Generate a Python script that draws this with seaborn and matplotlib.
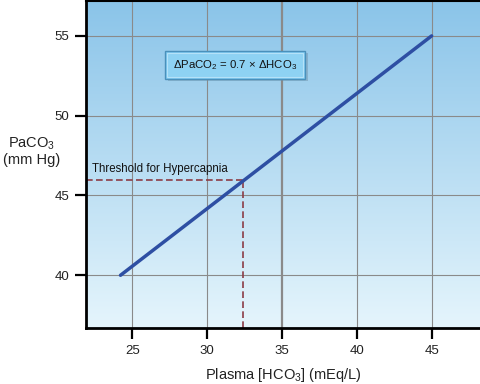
import numpy as np
import pandas as pd
import matplotlib
matplotlib.use("Agg")
import matplotlib.pyplot as plt
import seaborn as sns
from matplotlib.patches import Rectangle

# === data ===
hco3 = [24.2, 45.0]
paco2 = [40.0, 55.0]
threshold_paco2 = 46.0
threshold_hco3 = 32.4
x_ticks = [25, 30, 35, 40, 45]
y_ticks = [40, 45, 50, 55]

df = pd.DataFrame({"HCO3": hco3, "PaCO2": paco2})

sns.set_style("ticks")
plt.rcParams["font.family"] = ["Liberation Sans", "DejaVu Sans"]
plt.rcParams["mathtext.fontset"] = "custom"
plt.rcParams["mathtext.rm"] = "Liberation Sans"
plt.rcParams["mathtext.it"] = "Liberation Sans"
plt.rcParams["mathtext.bf"] = "Liberation Sans"

fig = plt.figure(figsize=(4.81, 3.84), dpi=100)
ax = fig.add_axes([0.179, 0.146, 0.821, 0.852])

ax.set_xlim(21.9, 48.3)
ax.set_ylim(36.7, 57.2)

# gradient background
top = np.array([138, 196, 233]) / 255
bot = np.array([229, 245, 252]) / 255
t = np.linspace(0, 1, 256)[:, None]
grad = (top * (1 - t) + bot * t).reshape(256, 1, 3)
ax.imshow(grad, extent=[0, 1, 0, 1], transform=ax.transAxes, aspect="auto", zorder=0)

# grid
for xv in x_ticks:
    ax.axvline(xv, color="#8a8a8a", lw=1.6 if xv == 35 else 0.8, zorder=1)
for yv in y_ticks:
    ax.axhline(yv, color="#8a8a8a", lw=0.8, zorder=1)

# threshold dashed lines
ax.plot([ax.get_xlim()[0], threshold_hco3], [threshold_paco2, threshold_paco2],
        color="#8c3c46", lw=1.2, ls=(0, (4, 2)), zorder=2)
ax.plot([threshold_hco3, threshold_hco3], [ax.get_ylim()[0], threshold_paco2],
        color="#8c3c46", lw=1.2, ls=(0, (4, 2)), zorder=2)
ax.text(22.3, 46.45, "Threshold for Hypercapnia", fontsize=8.3, color="#111111", zorder=3)

# main relationship
sns.lineplot(data=df, x="HCO3", y="PaCO2", color="#2e4fa3", lw=2.5, ax=ax, zorder=4)

# equation box with shadow
ax.add_patch(Rectangle((27.35, 52.15), 9.4, 1.75, facecolor="#6f8fa5", alpha=0.45,
                       edgecolor="none", zorder=5))
ax.add_patch(Rectangle((27.15, 52.3), 9.4, 1.75, facecolor="#7fcaf0",
                       edgecolor="#4a90bb", lw=1.0, zorder=6))
ax.add_patch(Rectangle((27.3, 52.42), 9.1, 1.5, facecolor="#8ed2f3",
                       edgecolor="#b5e2f8", lw=0.8, zorder=7))
ax.text(31.85, 53.17, r"$\Delta$PaCO$_2$ = 0.7 $\times$ $\Delta$HCO$_3$", fontsize=8.2,
        ha="center", va="center", color="#111111", zorder=8)

ax.set_xticks(x_ticks)
ax.set_yticks(y_ticks)
ax.tick_params(axis="both", length=8, width=1.6, labelsize=9.5, color="black",
               labelcolor="#222222", pad=4)
for s in ["left", "bottom"]:
    ax.spines[s].set_linewidth(2.0)
    ax.spines[s].set_color("black")
ax.spines["top"].set_linewidth(1.5)
ax.spines["top"].set_color("black")
ax.spines["right"].set_visible(False)

ax.set_xlabel("Plasma [HCO$_3$] (mEq/L)", fontsize=10.5, labelpad=7, color="#222222")
ax.set_ylabel("")
fig.text(0.065, 0.605, "PaCO$_3$\n(mm Hg)", fontsize=10.5, ha="center", va="center",
         linespacing=1.1, color="#222222")

fig.savefig("out.png", dpi=100)
